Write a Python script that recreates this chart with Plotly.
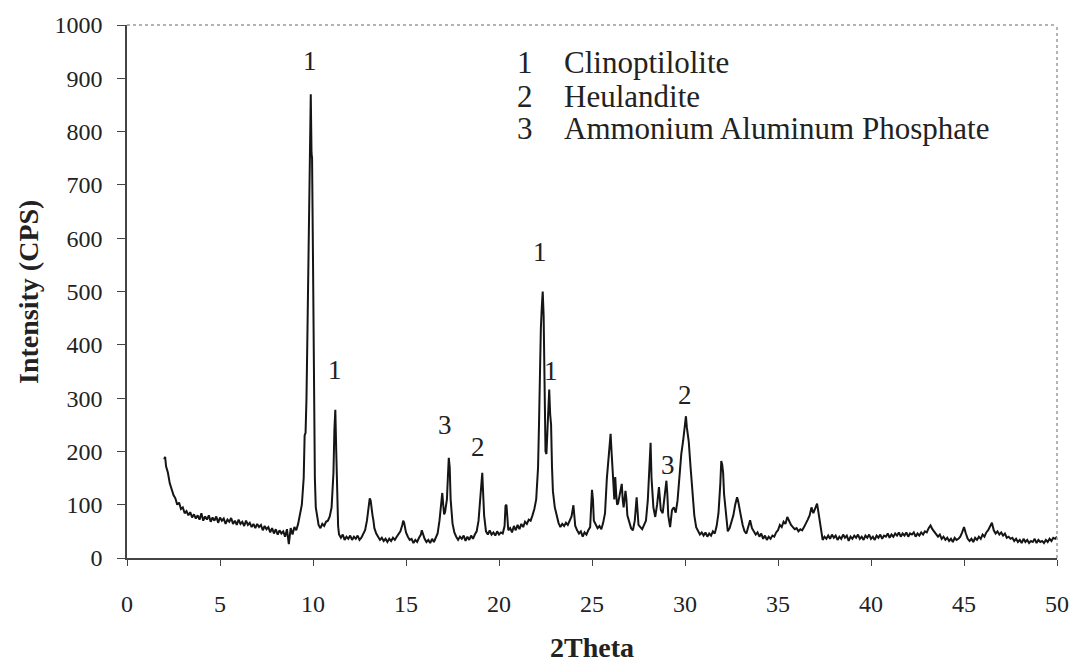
import plotly.graph_objects as go

# ---- data (2Theta in degrees, intensity in CPS) ----
two_theta = [
    2.0, 2.05, 2.1, 2.2, 2.3, 2.4, 2.5, 2.6, 2.7, 2.8,
    2.9, 3.0, 3.1, 3.2, 3.3, 3.4, 3.5, 3.6, 3.7, 3.8,
    3.9, 4.0, 4.1, 4.2, 4.3, 4.4, 4.5, 4.6, 4.7, 4.8,
    4.9, 5.0, 5.1, 5.2, 5.3, 5.4, 5.5, 5.6, 5.7, 5.8,
    5.9, 6.0, 6.1, 6.2, 6.3, 6.4, 6.5, 6.6, 6.7, 6.8,
    6.9, 7.0, 7.1, 7.2, 7.3, 7.4, 7.5, 7.6, 7.7, 7.8,
    7.9, 8.0, 8.1, 8.2, 8.3, 8.4, 8.5, 8.6, 8.7, 8.8,
    8.9, 9.0, 9.1, 9.2, 9.3, 9.4, 9.5,
    9.55, 9.6, 9.65, 9.7, 9.75, 9.8, 9.85, 9.88, 9.92, 9.95,
    10.0, 10.05, 10.1, 10.15, 10.2, 10.3, 10.4, 10.5, 10.6, 10.7,
    10.8, 10.9, 11.0, 11.05, 11.1, 11.15, 11.2, 11.25, 11.3, 11.35,
    11.4, 11.5, 11.6, 11.7, 11.8, 11.9, 12.0, 12.1, 12.2, 12.3,
    12.4, 12.5, 12.6, 12.7, 12.8, 12.9, 13.0, 13.05, 13.1, 13.15,
    13.2, 13.25, 13.3, 13.4, 13.5, 13.6, 13.7, 13.8, 13.9, 14.0,
    14.1, 14.2, 14.3, 14.4, 14.5, 14.6, 14.7, 14.8, 14.85, 14.9,
    15.0, 15.1, 15.2, 15.3, 15.4, 15.5, 15.6, 15.7, 15.8, 15.85,
    15.9, 16.0, 16.1, 16.2, 16.3, 16.4, 16.5, 16.6, 16.7, 16.8,
    16.85, 16.9, 16.95, 17.0, 17.05, 17.1, 17.2, 17.25, 17.3, 17.35,
    17.4, 17.5, 17.6, 17.7, 17.8, 17.9, 18.0, 18.1, 18.2, 18.3,
    18.4, 18.5, 18.6, 18.7, 18.8, 18.9, 19.0, 19.05, 19.1, 19.15,
    19.2, 19.3, 19.4, 19.5, 19.6, 19.7, 19.8, 19.9, 20.0, 20.1,
    20.2, 20.3, 20.35, 20.4, 20.45, 20.5, 20.6, 20.7, 20.8, 20.9,
    21.0, 21.1, 21.2, 21.3, 21.4, 21.5, 21.6, 21.7, 21.8, 21.9,
    22.0, 22.1, 22.15, 22.2, 22.25, 22.3, 22.35, 22.4, 22.45, 22.5,
    22.55, 22.6, 22.65, 22.7, 22.75, 22.8, 22.85, 22.9, 23.0, 23.1,
    23.2, 23.3, 23.4, 23.5, 23.6, 23.7, 23.8, 23.9, 24.0, 24.05,
    24.1, 24.2, 24.3, 24.4, 24.5, 24.6, 24.7, 24.8, 24.9, 25.0,
    25.05, 25.1, 25.2, 25.3, 25.4, 25.5, 25.6, 25.7, 25.8, 25.9,
    26.0, 26.05, 26.1, 26.15, 26.2, 26.25, 26.3, 26.35, 26.4, 26.5,
    26.6, 26.65, 26.7, 26.8, 26.85, 26.9, 27.0, 27.1, 27.2, 27.3,
    27.4, 27.45, 27.5, 27.6, 27.7, 27.8, 27.9, 28.0, 28.1, 28.15,
    28.2, 28.25, 28.3, 28.4, 28.5, 28.6, 28.65, 28.7, 28.8, 28.9,
    29.0, 29.05, 29.1, 29.2, 29.3, 29.4, 29.5, 29.6, 29.7, 29.8,
    29.9, 30.0, 30.05, 30.1, 30.2, 30.3, 30.4, 30.5, 30.6, 30.7,
    30.8, 30.9, 31.0, 31.1, 31.2, 31.3, 31.4, 31.5, 31.6, 31.7,
    31.8, 31.9, 31.95, 32.0, 32.05, 32.1, 32.15, 32.2, 32.3, 32.4,
    32.5, 32.6, 32.7, 32.8, 32.85, 32.9, 33.0, 33.1, 33.2, 33.3,
    33.4, 33.5, 33.6, 33.7, 33.8, 33.9, 34.0, 34.1, 34.2, 34.3,
    34.4, 34.5, 34.6, 34.7, 34.8, 34.9, 35.0, 35.1, 35.2, 35.3,
    35.4, 35.5, 35.6, 35.7, 35.8, 35.9, 36.0, 36.1, 36.2, 36.3,
    36.4, 36.5, 36.6, 36.7, 36.8, 36.9, 37.0, 37.1, 37.2, 37.3,
    37.4, 37.5, 37.6, 37.7, 37.8, 37.9, 38.0, 38.1, 38.2, 38.3,
    38.4, 38.5, 38.6, 38.7, 38.8, 38.9, 39.0, 39.1, 39.2, 39.3,
    39.4, 39.5, 39.6, 39.7, 39.8, 39.9, 40.0, 40.1, 40.2, 40.3,
    40.4, 40.5, 40.6, 40.7, 40.8, 40.9, 41.0, 41.1, 41.2, 41.3,
    41.4, 41.5, 41.6, 41.7, 41.8, 41.9, 42.0, 42.1, 42.2, 42.3,
    42.4, 42.5, 42.6, 42.7, 42.8, 42.9, 43.0, 43.1, 43.2, 43.3,
    43.4, 43.5, 43.6, 43.7, 43.8, 43.9, 44.0, 44.1, 44.2, 44.3,
    44.4, 44.5, 44.6, 44.7, 44.8, 44.9, 45.0, 45.1, 45.2, 45.3,
    45.4, 45.5, 45.6, 45.7, 45.8, 45.9, 46.0, 46.1, 46.2, 46.3,
    46.4, 46.5, 46.6, 46.7, 46.8, 46.9, 47.0, 47.1, 47.2, 47.3,
    47.4, 47.5, 47.6, 47.7, 47.8, 47.9, 48.0, 48.1, 48.2, 48.3,
    48.4, 48.5, 48.6, 48.7, 48.8, 48.9, 49.0, 49.1, 49.2, 49.3,
    49.4, 49.5, 49.6, 49.7, 49.8, 49.9, 50.0,
]

intensity = [
    185, 190, 172, 160, 140, 128, 118, 112, 100, 104,
    92, 95, 84, 88, 80, 86, 76, 82, 74, 80,
    72, 84, 70, 78, 72, 80, 68, 76, 70, 78,
    66, 76, 70, 74, 64, 72, 68, 75, 64, 70,
    62, 72, 64, 68, 60, 70, 62, 66, 58, 64,
    56, 64, 58, 62, 52, 60, 54, 58, 48, 56,
    46, 54, 44, 52, 46, 50, 40, 54, 26, 56,
    44, 58, 52, 64, 80, 100, 150,
    230, 235, 300, 420, 560, 740, 865, 870, 760, 750,
    560, 300, 150, 95, 80, 62, 56, 64, 60, 68,
    70, 78, 95, 120, 160, 240, 278, 200, 90, 60,
    44, 38, 44, 34, 40, 36, 42, 34, 40, 36,
    42, 34, 38, 44, 52, 70, 100, 112, 108, 90,
    80, 70, 56, 46, 40, 34, 38, 32, 36, 30,
    36, 32, 38, 34, 40, 44, 50, 62, 70, 66,
    48, 40, 34, 36, 28, 34, 30, 38, 44, 52,
    46, 36, 30, 34, 28, 36, 30, 40, 46, 70,
    90, 118, 122, 100, 82, 86, 110, 150, 188, 170,
    110, 65, 48, 40, 34, 40, 36, 42, 32, 40,
    34, 42, 36, 44, 50, 70, 110, 145, 160, 120,
    80, 50, 44, 52, 44, 48, 42, 50, 44, 48,
    46, 60, 98, 100, 70, 52, 56, 48, 60, 52,
    62, 54, 64, 58, 68, 64, 72, 70, 80, 92,
    110, 170, 250, 390, 430, 470, 500, 455, 300, 200,
    195, 250, 300, 316, 270, 250, 170, 125, 95, 80,
    66, 58, 64, 60, 66, 62, 70, 78, 99, 80,
    60, 52, 46, 50, 40, 48, 44, 52, 58, 128,
    110, 70, 62, 56, 60, 54, 66, 84, 150, 190,
    233, 200, 150, 140, 110, 152, 120, 100, 102, 125,
    139, 110, 95, 126, 110, 80, 66, 56, 52, 70,
    114, 90, 62, 58, 54, 62, 70, 108, 180, 216,
    150, 110, 95, 77, 100, 133, 110, 90, 84, 110,
    145, 120, 80, 58, 90, 95, 85, 108, 150, 195,
    220, 255, 266, 245, 219, 170, 120, 80, 58, 50,
    44, 48, 42, 48, 40, 46, 42, 50, 46, 60,
    84, 140, 182, 175, 160, 120, 100, 80, 50, 56,
    66, 80, 100, 114, 108, 96, 80, 62, 50, 46,
    60, 71, 56, 50, 44, 48, 40, 46, 36, 42,
    34, 40, 36, 42, 40, 48, 52, 62, 58, 68,
    64, 77, 68, 62, 58, 54, 56, 50, 54, 52,
    58, 64, 72, 80, 95, 84, 92, 102, 80, 60,
    34, 40, 36, 42, 36, 44, 38, 42, 34, 40,
    36, 44, 38, 42, 32, 40, 36, 42, 38, 44,
    36, 40, 34, 42, 38, 44, 36, 40, 34, 42,
    38, 44, 36, 42, 40, 46, 38, 44, 40, 46,
    42, 48, 40, 46, 42, 48, 40, 46, 44, 48,
    40, 46, 42, 48, 44, 50, 48, 56, 61, 54,
    50, 46, 40, 44, 36, 40, 34, 38, 32, 36,
    30, 38, 34, 36, 40, 48, 58, 46, 36, 32,
    36, 30, 38, 34, 40, 36, 44, 40, 48, 52,
    60, 66, 52, 46, 50, 44, 48, 42, 46, 38,
    40, 36, 38, 32, 36, 30, 34, 28, 36, 30,
    34, 28, 32, 30, 36, 28, 34, 30, 32, 28,
    34, 30, 36, 32, 38, 36, 40,
]

assert len(two_theta) == len(intensity)

# peak labels: (2Theta, intensity, phase number)
peak_x = [9.85, 11.2, 17.1, 18.85, 22.2, 22.8, 29.1, 30.0]
peak_y = [932, 352, 250, 208, 574, 350, 175, 305]
peak_lbl = ["1", "1", "3", "2", "1", "1", "3", "2"]

legend_nums = ["1", "2", "3"]
legend_names = ["Clinoptilolite", "Heulandite", "Ammonium Aluminum Phosphate"]
legend_y = [930, 866, 805]

x_ticks = [0, 5, 10, 15, 20, 25, 30, 35, 40, 45, 50]
y_ticks = [0, 100, 200, 300, 400, 500, 600, 700, 800, 900, 1000]

FONT = "Liberation Serif, Times New Roman, serif"

fig = go.Figure()
fig.add_trace(go.Scatter(
    x=two_theta, y=intensity, mode="lines",
    line=dict(color="#151515", width=2.0), showlegend=False,
    hoverinfo="skip",
))

ann = []
for px, py, t in zip(peak_x, peak_y, peak_lbl):
    ann.append(dict(x=px, y=py, xref="x", yref="y", text=t, showarrow=False,
                    font=dict(family=FONT, size=27, color="#222")))
for n, name, ly in zip(legend_nums, legend_names, legend_y):
    ann.append(dict(x=21.4, y=ly, xref="x", yref="y", text=n, showarrow=False,
                    font=dict(family=FONT, size=31, color="#222")))
    ann.append(dict(x=23.4, y=ly, xref="x", yref="y", text=name, showarrow=False,
                    xanchor="left",
                    font=dict(family=FONT, size=31, color="#222")))
# axis titles
ann.append(dict(x=0.5, y=-0.168, xref="paper", yref="paper", text="<b>2Theta</b>",
                showarrow=False, yanchor="middle", xanchor="center",
                font=dict(family=FONT, size=28, color="#222")))
ann.append(dict(x=-0.106, y=0.5, xref="paper", yref="paper", text="<b>Intensity (CPS)</b>",
                showarrow=False, textangle=-90, xanchor="center", yanchor="middle",
                font=dict(family=FONT, size=28, color="#222")))

fig.update_layout(
    width=1081, height=667,
    margin=dict(l=127, r=22, t=20, b=109),
    paper_bgcolor="white", plot_bgcolor="white",
    annotations=ann,
    shapes=[
        dict(type="line", xref="paper", yref="paper", x0=0, x1=1, y0=1, y1=1,
             line=dict(color="#9a9a9a", width=1.5, dash="dot")),
        dict(type="line", xref="paper", yref="paper", x0=1, x1=1, y0=0, y1=1,
             line=dict(color="#9a9a9a", width=1.5, dash="dot")),
    ],
)
fig.update_xaxes(
    range=[0, 50], tickvals=x_ticks, ticktext=[str(v) for v in x_ticks],
    showgrid=False, zeroline=False, showline=True, linecolor="#444", linewidth=1.5,
    ticks="outside", ticklen=6, tickcolor="#444", tickwidth=1,
    tickfont=dict(family=FONT, size=24, color="#222"), ticklabelstandoff=17,
)
fig.update_yaxes(
    range=[0, 1000], tickvals=y_ticks, ticktext=[str(v) for v in y_ticks],
    showgrid=False, zeroline=False, showline=True, linecolor="#444", linewidth=1.5,
    ticks="outside", ticklen=8, tickcolor="#444", tickwidth=1,
    tickfont=dict(family=FONT, size=24, color="#222"), ticklabelstandoff=10,
)

fig.write_html("out.html")
